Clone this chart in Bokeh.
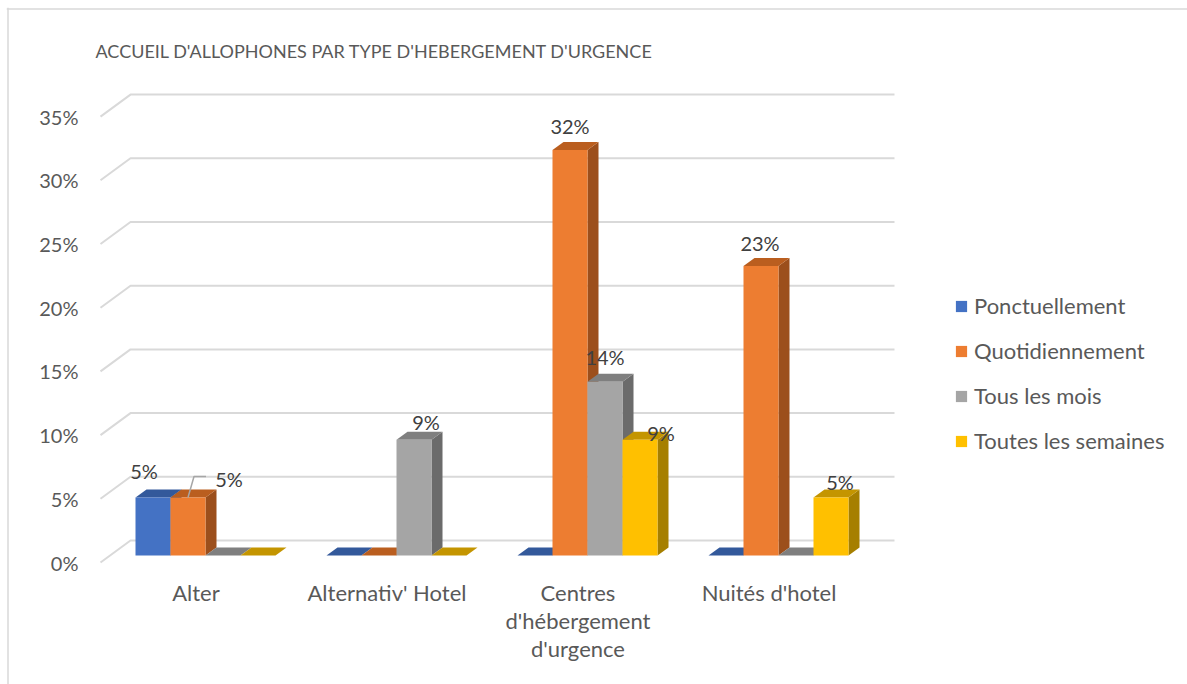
from bokeh.plotting import figure
from bokeh.models import Range1d, FixedTicker, Legend, LegendItem, Span, ColumnDataSource
from bokeh.core.properties import value
from bokeh.embed import file_html
from bokeh.resources import INLINE

# ---------------- data ----------------
title_text = "ACCUEIL D'ALLOPHONES PAR TYPE D'HEBERGEMENT D'URGENCE"
categories = ["Alter", "Alternativ' Hotel", "Centres\nd'hébergement\nd'urgence", "Nuités d'hotel"]
series_names = ["Ponctuellement", "Quotidiennement", "Tous les mois", "Toutes les semaines"]
ponctuellement = [4.55, 0.0, 0.0, 0.0]
quotidiennement = [4.55, 0.0, 31.82, 22.73]
tous_les_mois = [0.0, 9.09, 13.64, 0.0]
toutes_les_semaines = [0.0, 0.0, 9.09, 4.55]
y_ticks = [0, 5, 10, 15, 20, 25, 30, 35]
y_tick_labels = ["0%", "5%", "10%", "15%", "20%", "25%", "30%", "35%"]

series_values = [ponctuellement, quotidiennement, tous_les_mois, toutes_les_semaines]

# ---------------- style ----------------
FONT = "Lato"
FRONT = ["#4472C4", "#ED7D31", "#A5A5A5", "#FFC000"]
TOP = ["#33599B", "#BA5E1F", "#7F7F7F", "#C49500"]
SIDE = ["#2B4C86", "#9C4F1C", "#6B6B6B", "#A67F00"]

W_PX, H_PX = 1187, 684
FRAME_L, FRAME_R, FRAME_T, FRAME_B = 6, 1187, 7, 684
PLOT_X0_PX = 100.0   # pixel column where the first category starts (front plane)
PX_PER_X = 191.0     # pixels per category
PX_PER_Y = 12.74     # pixels per percent
Y0_PX = 562.0        # pixel row of 0% on the front plane

def dx(px):
    return px / PX_PER_X

def dy(px):  # px upward
    return px / PX_PER_Y

def xd(px):  # pixel column -> data x
    return (px - PLOT_X0_PX) / PX_PER_X

def yd(px):  # pixel row -> data y
    return (Y0_PX - px) / PX_PER_Y

BACK_X, BACK_Y = dx(30), dy(22)      # back wall offset
BAR_X, BAR_Y = dx(9.5), dy(7)        # bar front plane offset
DEPTH_X, DEPTH_Y = dx(11), dy(8)     # bar depth
BAR_W = dx(35)

# label offsets (px, x right, y down) relative to bar front-top centre
label_offsets = {
    (0, 0): (-9, -27), (0, 1): (41, -19),
    (1, 2): (12, -18),
    (2, 1): (0, -24), (2, 2): (0, -25), (2, 3): (21, -7),
    (3, 1): (-1, -23), (3, 3): (9, -16),
}

p = figure(width=W_PX, height=H_PX, output_backend="svg", toolbar_location=None,
           x_range=Range1d(xd(FRAME_L), xd(FRAME_R)),
           y_range=Range1d(yd(FRAME_B), yd(FRAME_T)),
           x_axis_location=None,
           min_border_left=FRAME_L, min_border_right=W_PX - FRAME_R,
           min_border_top=FRAME_T, min_border_bottom=H_PX - FRAME_B,
           outline_line_color=None, background_fill_color="white", border_fill_color="white")
p.grid.visible = False

# chart border (top and left edges)
p.add_layout(Span(location=xd(FRAME_L + 1.5), dimension="height", line_color="#D9D9D9", line_width=1.5))
p.add_layout(Span(location=yd(FRAME_T + 1.5), dimension="width", line_color="#D9D9D9", line_width=1.5))

# y axis (labels drawn inside the chart area)
ax = p.yaxis[0]
ax.ticker = FixedTicker(ticks=y_ticks)
ax.major_label_overrides = {t: l for t, l in zip(y_ticks, y_tick_labels)}
ax.axis_line_color = None
ax.major_tick_line_color = None
ax.minor_tick_line_color = None
ax.major_tick_out = 0
ax.major_tick_in = 0
ax.major_label_standoff = -(78 - FRAME_L)
ax.major_label_text_font = FONT
ax.major_label_text_font_size = "20px"
ax.major_label_text_color = "#595959"

# title
p.text(x=[xd(95)], y=[yd(50)], text=[title_text], text_align="left", text_baseline="middle",
       text_font=value(FONT), text_font_size="18px", text_color="#595959")

# gridlines (front diagonal + back wall)
n_cat = len(categories)
gx, gy = [], []
for t in y_ticks:
    gx.append([0, BACK_X, n_cat + BACK_X])
    gy.append([t, t + BACK_Y, t + BACK_Y])
p.multi_line(gx, gy, line_color="#D9D9D9", line_width=2)

# bars
legend_items = []
for j, vals in enumerate(series_values):
    lefts, rights, bottoms, tops = [], [], [], []
    top_xs, top_ys, side_xs, side_ys = [], [], [], []
    for i, v in enumerate(vals):
        left = i + 0.5 + BAR_X + (j - 2) * BAR_W
        right = left + BAR_W
        bottom = BAR_Y
        top = BAR_Y + v
        lefts.append(left); rights.append(right); bottoms.append(bottom); tops.append(top)
        top_xs.append([left, right, right + DEPTH_X, left + DEPTH_X])
        top_ys.append([top, top, top + DEPTH_Y, top + DEPTH_Y])
        side_xs.append([right, right, right + DEPTH_X, right + DEPTH_X])
        side_ys.append([bottom, top, top + DEPTH_Y, bottom + DEPTH_Y])
    p.patches(side_xs, side_ys, fill_color=SIDE[j], line_color=None)
    p.patches(top_xs, top_ys, fill_color=TOP[j], line_color=None)
    r = p.quad(left=lefts, right=rights, bottom=bottoms, top=tops,
               fill_color=FRONT[j], line_color=None)
    legend_items.append(LegendItem(label=series_names[j], renderers=[r]))

# data labels
lx, ly, lt, lxo, lyo = [], [], [], [], []
for (i, j), (ox, oy) in label_offsets.items():
    v = series_values[j][i]
    cx = i + 0.5 + BAR_X + (j - 1.5) * BAR_W
    lx.append(cx); ly.append(BAR_Y + v); lt.append(f"{round(v)}%")
    lxo.append(ox); lyo.append(oy)
src = ColumnDataSource(dict(x=lx, y=ly, text=lt, xo=lxo, yo=lyo))
p.text(x="x", y="y", text="text", x_offset="xo", y_offset="yo", source=src,
       text_align="center", text_baseline="middle", text_font=value(FONT),
       text_font_size="20px", text_color="#404040")

# leader line for Alter / Quotidiennement label
v = series_values[1][0]
cx = 0 + 0.5 + BAR_X + (1 - 1.5) * BAR_W
p.line([cx, cx + dx(6), cx + dx(18)], [BAR_Y + v, BAR_Y + v + dy(21), BAR_Y + v + dy(21)],
       line_color="#A6A6A6", line_width=1.5)

# category labels
p.text(x=[i + 0.5 for i in range(n_cat)], y=[-dy(16)] * n_cat, text=categories,
       text_align="center", text_baseline="top", text_font=value(FONT),
       text_font_size="22px", text_color="#595959", text_line_height=1.05)

# legend
legend = Legend(items=legend_items, location=(954 - FRAME_L, FRAME_B - 454), orientation="vertical",
                glyph_width=14, glyph_height=14, label_height=22, spacing=18,
                label_standoff=6, padding=0, margin=0,
                label_text_font=FONT, label_text_font_size="22px",
                label_text_color="#595959", border_line_color=None,
                background_fill_alpha=0)
p.add_layout(legend)

open("out.html", "w").write(file_html(p, INLINE))
